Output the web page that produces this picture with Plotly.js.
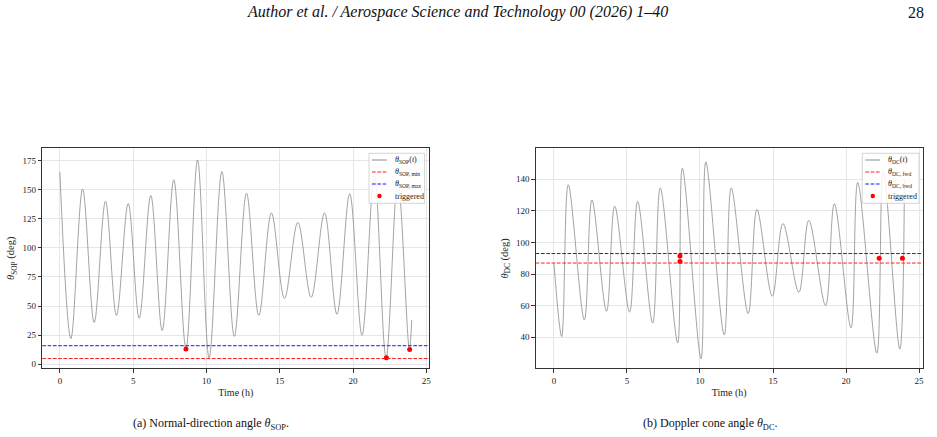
<!DOCTYPE html>
<html>
<head>
<meta charset="utf-8">
<script src="https://cdn.plot.ly/plotly-3.0.1.min.js"></script>
<style>html,body{margin:0;padding:0;background:#fff;}#chart{width:937px;height:437px;}</style>
</head>
<body>
<div id="chart"></div>
<script>
// ---- data ----
const sopTime = [0.0, 0.75, 1.55, 2.34, 3.11, 3.86, 4.66, 5.41, 6.2, 6.98, 7.77, 8.6, 9.39, 10.18, 11.05, 11.9, 12.73, 13.57, 14.43, 15.32, 16.23, 17.14, 18.05, 18.9, 19.77, 20.61, 21.45, 22.25, 23.05, 23.84, 24.0];
const sopAngle = [165, 22, 150.5, 36, 140, 42, 138, 39.5, 145, 29, 158.5, 13.5, 175.5, 5.5, 165.5, 24, 147, 42, 130, 56.5, 122, 57.5, 130, 43, 146.5, 25, 162, 5.5, 158, 13, 38];
const sopTrigTime = [8.6, 22.27, 23.86];
const sopTrigAngle = [13.2, 5.6, 12.7];
const sopMin = 5;
const sopMax = 16;

const dcTime = [0.0, 0.53, 0.98, 2.08, 2.6, 3.6, 4.16, 5.18, 5.73, 6.76, 7.28, 8.47, 8.79, 10.07, 10.4, 11.66, 12.14, 13.3, 13.9, 14.95, 15.68, 16.77, 17.45, 18.6, 19.2, 20.34, 20.8, 22.11, 22.55, 23.68, 24.0];
const dcAngle = [87, 40.5, 136.5, 51, 127, 56.5, 123, 56, 126, 49, 134.5, 36.5, 147, 26.5, 151, 41.5, 134.5, 55, 121, 66, 112, 68.5, 114, 60, 124.5, 46, 138, 30, 145, 32.5, 140];
const dcTrigTime = [8.63, 8.63, 22.27, 23.86];
const dcTrigAngle = [91.5, 87.9, 90, 90];
const dcFwd = 87;
const dcBwd = 93;

const xTicks = [0, 5, 10, 15, 20, 25];
const sopTicks = [0, 25, 50, 75, 100, 125, 150, 175];
const dcTicks = [40, 60, 80, 100, 120, 140];

// ---- layout helpers ----
const W = 937, H = 437;
const px = x => x / W;
const py = y => 1 - y / H;
const FONT = 'Liberation Serif';
const GRAY = '#8c8c8c';
const DASH = '3.7px,1.6px';

const traces = [
  {x: sopTime, y: sopAngle, xaxis: 'x', yaxis: 'y', mode: 'lines', line: {color: GRAY, width: 0.8, shape: 'spline', smoothing: 1}, showlegend: false, hoverinfo: 'skip'},
  {x: sopTrigTime, y: sopTrigAngle, xaxis: 'x', yaxis: 'y', mode: 'markers', marker: {color: 'red', size: 5}, showlegend: false},
  {x: dcTime, y: dcAngle, xaxis: 'x2', yaxis: 'y2', mode: 'lines', line: {color: GRAY, width: 0.8, shape: 'spline', smoothing: 1}, showlegend: false, hoverinfo: 'skip'},
  {x: dcTrigTime, y: dcTrigAngle, xaxis: 'x2', yaxis: 'y2', mode: 'markers', marker: {color: 'red', size: 5}, showlegend: false}
];

function axisBase(ticks) {
  return {
    tickvals: ticks, ticktext: ticks.map(String),
    ticks: 'outside', ticklen: 3.5, tickwidth: 0.8, tickcolor: '#333',
    showline: true, linecolor: '#333', linewidth: 1, mirror: true,
    showgrid: true, gridcolor: '#e6e6e6', gridwidth: 0.8,
    zeroline: false, tickfont: {family: FONT, size: 9, color: '#222'},
    fixedrange: true
  };
}

const yDomain = [py(368.3), py(148.3)];

const layout = {
  width: W, height: H,
  margin: {l: 0, r: 0, t: 0, b: 0},
  paper_bgcolor: '#fff', plot_bgcolor: '#fff',
  showlegend: false,
  font: {family: FONT, size: 10, color: '#222'},
  xaxis: Object.assign(axisBase(xTicks), {domain: [px(42.3), px(429.3)], range: [-1.2, 25.2], anchor: 'y',
    title: {text: 'Time (h)', font: {family: FONT, size: 10}, standoff: 4}}),
  yaxis: Object.assign(axisBase(sopTicks), {domain: yDomain, range: [-3.4, 185.5], anchor: 'x',
    title: {text: '<i>θ</i><sub>SOP</sub> (deg)', font: {family: FONT, size: 10.5}, standoff: 5}}),
  xaxis2: Object.assign(axisBase(xTicks), {domain: [px(535.7), px(922.7)], range: [-1.25, 25.25], anchor: 'y2',
    title: {text: 'Time (h)', font: {family: FONT, size: 10}, standoff: 4}}),
  yaxis2: Object.assign(axisBase(dcTicks), {domain: yDomain, range: [20.4, 159.6], anchor: 'x2',
    title: {text: '<i>θ</i><sub>DC</sub> (deg)', font: {family: FONT, size: 10.5}, standoff: 5}}),
  shapes: [],
  annotations: []
};

// threshold lines through the axis scales
layout.shapes.push(
  {type: 'line', xref: 'x domain', yref: 'y', x0: 0, x1: 1, y0: sopMin, y1: sopMin, line: {color: '#ff2020', width: 1, dash: DASH}},
  {type: 'line', xref: 'x domain', yref: 'y', x0: 0, x1: 1, y0: sopMax, y1: sopMax, line: {color: '#1a1aff', width: 1, dash: DASH}},
  {type: 'line', xref: 'x2 domain', yref: 'y2', x0: 0, x1: 1, y0: dcFwd, y1: dcFwd, line: {color: '#ff2020', width: 1, dash: DASH}},
  {type: 'line', xref: 'x2 domain', yref: 'y2', x0: 0, x1: 1, y0: dcBwd, y1: dcBwd, line: {color: '#1a1aff', width: 1, dash: DASH}}
);

// legends (matplotlib style, upper right)
function addLegend(boxL, boxR, labels) {
  const top = 153.3, bot = 203.3;
  layout.shapes.push({type: 'rect', xref: 'paper', yref: 'paper', x0: px(boxL), x1: px(boxR), y0: py(bot), y1: py(top),
    line: {color: '#cccccc', width: 0.8}, fillcolor: 'rgba(255,255,255,0.85)', layer: 'above'});
  const rows = [160, 172, 184, 196];
  const sx0 = boxL + 3, sx1 = boxL + 18, tx = boxL + 23.5;
  const styles = [
    {color: GRAY, dash: 'solid'}, {color: '#ff2020', dash: DASH}, {color: '#1a1aff', dash: DASH}
  ];
  for (let i = 0; i < 3; i++) {
    layout.shapes.push({type: 'line', xref: 'paper', yref: 'paper', x0: px(sx0), x1: px(sx1), y0: py(rows[i]), y1: py(rows[i]),
      line: {color: styles[i].color, width: 1, dash: styles[i].dash}, layer: 'above'});
  }
  const cx = (sx0 + sx1) / 2;
  layout.shapes.push({type: 'circle', xref: 'paper', yref: 'paper', x0: px(cx - 2.2), x1: px(cx + 2.2), y0: py(rows[3] + 2.2), y1: py(rows[3] - 2.2),
    line: {color: 'red', width: 0}, fillcolor: 'red', layer: 'above'});
  labels.forEach((lab, i) => {
    layout.annotations.push({xref: 'paper', yref: 'paper', x: px(tx), y: py(rows[i]), xanchor: 'left', yanchor: 'middle',
      text: lab, showarrow: false, font: {family: FONT, size: 8, color: '#222'}});
  });
}
addLegend(369, 424.5, ['<i>θ</i><sub>SOP</sub>(<i>t</i>)', '<i>θ</i><sub>SOP, min</sub>', '<i>θ</i><sub>SOP, max</sub>', 'triggered']);
addLegend(862.3, 919, ['<i>θ</i><sub>DC</sub>(<i>t</i>)', '<i>θ</i><sub>DC, fwd</sub>', '<i>θ</i><sub>DC, bwd</sub>', 'triggered']);

// page header and captions
layout.annotations.push(
  {xref: 'paper', yref: 'paper', x: px(457), y: py(12), xanchor: 'center', yanchor: 'middle', showarrow: false,
    text: '<i>Author et al. / Aerospace Science and Technology 00 (2026) 1–40</i>', font: {family: FONT, size: 16, color: '#111'}},
  {xref: 'paper', yref: 'paper', x: px(926), y: py(12), xanchor: 'right', yanchor: 'middle', showarrow: false,
    text: '28', font: {family: FONT, size: 16, color: '#111'}},
  {xref: 'paper', yref: 'paper', x: px(211), y: py(424), xanchor: 'center', yanchor: 'middle', showarrow: false,
    text: '(a) Normal-direction angle <i>θ</i><sub>SOP</sub>.', font: {family: FONT, size: 12, color: '#111'}},
  {xref: 'paper', yref: 'paper', x: px(710), y: py(424), xanchor: 'center', yanchor: 'middle', showarrow: false,
    text: '(b) Doppler cone angle <i>θ</i><sub>DC</sub>.', font: {family: FONT, size: 12, color: '#111'}}
);

Plotly.newPlot('chart', traces, layout, {displayModeBar: false});
</script>
</body>
</html>
